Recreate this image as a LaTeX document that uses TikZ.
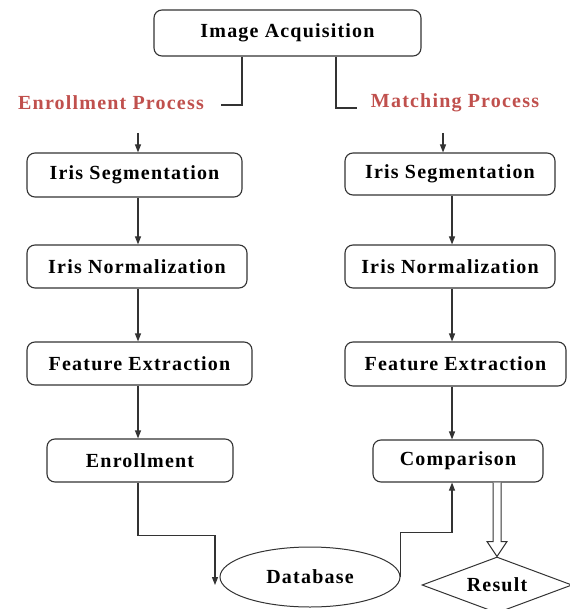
\documentclass[tikz,border=0pt]{standalone}
\usepackage{fontspec}
\setmainfont{Liberation Serif}
\newfontfamily\chartfont[LetterSpace=6.0]{Liberation Serif}
\usepackage{tikz}
\usetikzlibrary{arrows.meta,shapes.geometric,calc}
\definecolor{procred}{HTML}{C0504D}

\begin{document}
\begin{tikzpicture}[x=1pt,y=-1pt,
        chart/.style={font=\chartfont\bfseries\fontsize{20}{24}\selectfont},
        stage/.style={chart,draw=black!80,line width=1.1pt,rounded corners=8pt,inner sep=0pt},
        heading/.style={chart,text=procred,inner sep=0pt},
        link/.style={draw=black!80,line width=1.1pt},
        flow/.style={link,-{Triangle[length=8pt,width=6pt]}}]
                \useasboundingbox
                    (0,0) rectangle (569,609);
                % top box and the two branches
                \node[stage,minimum width=267pt,minimum height=46pt] (acq)
                    at (287.5,33) {Image Acquisition};
                \node[heading] (enp) 
                    at (111,103) {Enrollment Process};
                \node[heading] (mtp) 
                    at (455,103) {Matching Process};
                \coordinate (splitL) at (242,0);
                \coordinate (splitR) at (336,0);
                \coordinate (enpEnd) at (221,105);
                \coordinate (mtpEnd) at (357,108);
                \draw[link] (acq.south -| splitL) |- (enpEnd);
                \draw[link] (acq.south -| splitR) |- (mtpEnd);
                % enrollment column
                \coordinate (colL) at (138,133);
                \node[stage,minimum width=215pt,minimum height=44pt] (segL) 
                    at (134.5,175) {Iris Segmentation};
                \node[stage,minimum width=220pt,minimum height=43pt] (nrmL) 
                    at (137,266.5) {Iris Normalization};
                \node[stage,minimum width=225pt,minimum height=43pt] (fexL) 
                    at (139.5,363.5) {Feature Extraction};
                \node[stage,minimum width=186pt,minimum height=43pt] (enr) 
                    at (140,460.5) {Enrollment};
                \draw[flow] (colL) -- (segL.north -| colL);
                \draw[flow] (segL.south -| colL) -- (nrmL.north -| colL);
                \draw[flow] (nrmL.south -| colL) -- (fexL.north -| colL);
                \draw[flow] (fexL.south -| colL) -- (enr.north -| colL);
                % matching column
                \coordinate (colR) at (452,0);
                \coordinate (inR) at (443,133);
                \node[stage,minimum width=210pt,minimum height=42pt] (segR) 
                    at (450,174) {Iris Segmentation};
                \node[stage,minimum width=210pt,minimum height=43pt] (nrmR) 
                    at (450,266.5) {Iris Normalization};
                \node[stage,minimum width=221pt,minimum height=44pt] (fexR) 
                    at (455.5,364) {Feature Extraction};
                \node[stage,minimum width=170pt,minimum height=42pt] (cmp) 
                    at (458,461) {Comparison};
                \draw[flow] (inR) -- (segR.north -| inR);
                \draw[flow] (segR.south -| colR) -- (nrmR.north -| colR);
                \draw[flow] (nrmR.south -| colR) -- (fexR.north -| colR);
                \draw[flow] (fexR.south -| colR) -- (cmp.north -| colR);
                % database and result
                \node[chart,ellipse,draw=black!80,line width=1pt,inner sep=0pt,
                    minimum width=180pt,minimum height=60pt] (db) 
                    at (310,577) {Database};
                \node[chart,diamond,draw=black!80,line width=1pt,inner sep=0pt,aspect=2.68,
                    minimum width=150pt,minimum height=56pt] (res) 
                    at (497,585) {Result};
                \coordinate (dbIn) at (215,585);
                \draw[flow] (enr.south -| colL) -- ++(0,53) -| (dbIn);
                \draw[flow] (db.east) |- ($(cmp.south -| colR)+(0,50)$) -- (cmp.south -| colR);
                \path (cmp.south -| res.north) coordinate (shaftTop);
                \draw[link,line width=1pt,fill=white]
                    ($(shaftTop)+(-4,0)$) -- ($(res.north)+(-4,-15)$) -- ($(res.north)+(-10,-15)$)
                    -- (res.north) -- ($(res.north)+(10,-15)$) -- ($(res.north)+(4,-15)$)
                    -- ($(shaftTop)+(4,0)$);
            \end{tikzpicture}
\end{document}
